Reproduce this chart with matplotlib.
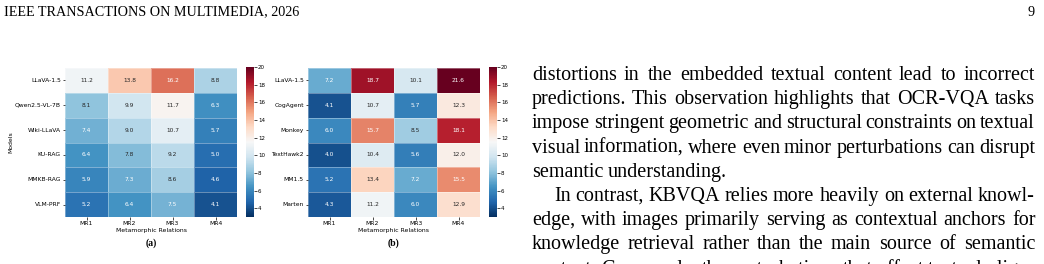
import numpy as np
import matplotlib
matplotlib.use("Agg")
import matplotlib.pyplot as plt
import seaborn as sns

# ---------------------------------------------------------------------------
# Data
# ---------------------------------------------------------------------------
relations = ["MR1", "MR2", "MR3", "MR4"]

models_a = ["LLaVA-1.5", "Qwen2.5-VL-7B", "Wiki-LLaVA", "KU-RAG", "MMKB-RAG", "VLM-PRF"]
values_a = [
    [11.2, 13.8, 16.2, 8.8],
    [8.1, 9.9, 11.7, 6.3],
    [7.4, 9.0, 10.7, 5.7],
    [6.4, 7.8, 9.2, 5.0],
    [5.9, 7.3, 8.6, 4.6],
    [5.2, 6.4, 7.5, 4.1],
]

models_b = ["LLaVA-1.5", "CogAgent", "Monkey", "TextHawk2", "MM1.5", "Marten"]
values_b = [
    [7.2, 18.7, 10.1, 21.6],
    [4.1, 10.7, 5.7, 12.3],
    [6.0, 15.7, 8.5, 18.1],
    [4.0, 10.4, 5.6, 12.0],
    [5.2, 13.4, 7.2, 15.5],
    [4.3, 11.2, 6.0, 12.9],
]

header_left = "IEEE TRANSACTIONS ON MULTIMEDIA, 2026"
header_right = "9"

# (line text, last line of paragraph, indent)
body_lines = [
    ("distortions in the embedded textual content lead to incorrect", False, False),
    ("predictions. This observation highlights that OCR-VQA tasks", False, False),
    ("impose stringent geometric and structural constraints on textual", False, False),
    ("visual information, where even minor perturbations can disrupt", False, False),
    ("semantic understanding.", True, False),
    ("In contrast, KBVQA relies more heavily on external knowl-", False, True),
    ("edge, with images primarily serving as contextual anchors for", False, False),
    ("knowledge retrieval rather than the main source of semantic", False, False),
    ("content. Conversely, the perturbations that affect textual align-", False, False),
]

W, H = 1044, 264
fig = plt.figure(figsize=(W / 100, H / 100), dpi=100, facecolor="white")


def px(x, y):
    """pixel (from top-left) -> figure fraction"""
    return x / W, 1 - y / H


def draw_heatmap(left, data, rows, tag):
    ax = fig.add_axes([left / W, 47 / H, 172 / W, 149 / H])
    cax = fig.add_axes([(left + 181) / W, 47 / H, 8 / W, 150 / H])
    sns.heatmap(np.array(data), ax=ax, cbar_ax=cax, cmap="RdBu_r",
                vmin=3, vmax=20, annot=True, fmt=".1f",
                annot_kws={"fontsize": 4.2},
                linewidths=0.6, linecolor=(1, 1, 1, 0.35),
                xticklabels=relations, yticklabels=rows)
    ax.tick_params(axis="both", labelsize=4.3, length=1.8, width=0.5, pad=1.2)
    ax.set_yticklabels(rows, rotation=0)
    ax.set_xlabel("Metamorphic Relations", fontsize=4.4, labelpad=1)
    cax.tick_params(labelsize=4, length=1.8, width=0.5, pad=1)
    cax.set_yticks([4, 6, 8, 10, 12, 14, 16, 18, 20])
    for sp in cax.spines.values():
        sp.set_visible(False)
    cx = left + 86
    fig.text(*px(cx, 243), tag, ha="center", va="center",
             fontsize=7, fontweight="bold", family="Liberation Serif")
    return ax


ax_a = draw_heatmap(65, values_a, models_a, "(a)")
ax_a.set_ylabel("Models", fontsize=4.4, labelpad=1)
ax_b = draw_heatmap(308, values_b, models_b, "(b)")

# --- Running header ---
fig.text(*px(4, 12), header_left, ha="left", va="center",
         fontsize=10.2, family="Liberation Serif")
fig.text(*px(1035, 12), header_right, ha="right", va="center",
         fontsize=10.2, family="Liberation Serif")

# --- Body text, justified word by word ---
renderer = fig.canvas.get_renderer()
x0, x1 = 532, 1035
indent = 22
fs = 14.5
base = 80
lead = 24.2


def measure(s):
    t = fig.text(0, 0, s, fontsize=fs, family="Liberation Serif")
    w = t.get_window_extent(renderer).width
    t.remove()
    return w


sw = measure("a b") - measure("ab")
for i, (line, last, ind) in enumerate(body_lines):
    y = round(base + i * lead)
    words = line.split(" ")
    start = x0 + (indent if ind else 0)
    texts = [fig.text(0, 0, w, fontsize=fs, family="Liberation Serif",
                      va="baseline", ha="left") for w in words]
    widths = [t.get_window_extent(renderer).width for t in texts]
    if last or len(words) == 1:
        gap = sw
    else:
        gap = (x1 - start - sum(widths)) / (len(words) - 1)
    x = start
    for t, w in zip(texts, widths):
        t.set_position(px(round(x), y))
        x += w + gap

fig.savefig("out.png", dpi=100, facecolor="white")
